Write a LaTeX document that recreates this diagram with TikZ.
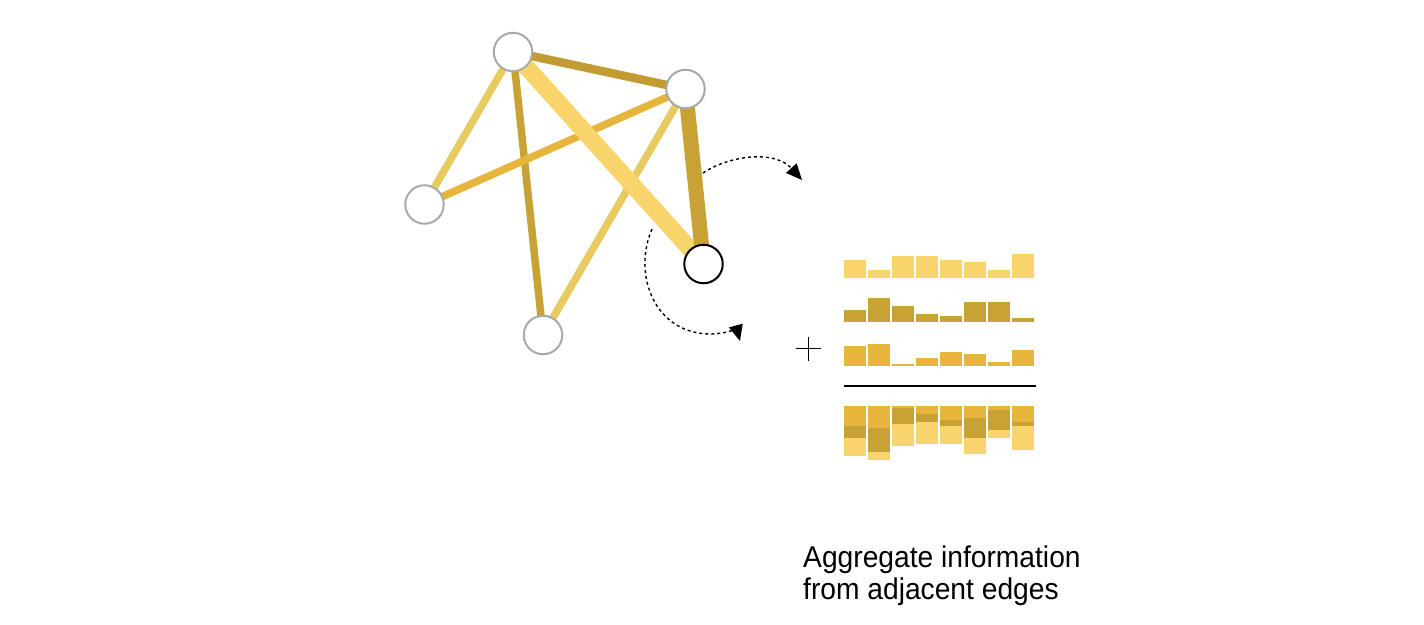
\documentclass[tikz,border=0pt]{standalone}
\usepackage{fontspec}
\newfontfamily\labelfont[FakeStretch=0.94]{Liberation Sans}
\usetikzlibrary{arrows.meta,backgrounds}
\definecolor{vgray}{HTML}{A9A9A9}
\definecolor{lightgold}{HTML}{F8D46B}
\definecolor{palegold}{HTML}{E7CB61}
\definecolor{orangegold}{HTML}{E8B53C}
\definecolor{darkgold}{HTML}{C9A236}
\definecolor{deepgold}{HTML}{C29B33}

\begin{document}
\begin{tikzpicture}[
      x=1pt, y=-1pt,
      vertex/.style={circle,draw=vgray,line width=2pt,fill=white,minimum size=38.5pt,inner sep=0pt},
      edge/.style={line width=7.5pt},
      flow/.style={dash pattern=on 3pt off 3pt,line width=1.4pt,-{Triangle[length=16pt,width=14pt]}}
    ]
    \useasboundingbox (0,0) rectangle (1424,624);
    % graph
    \node (a) [vertex] at (513,52) {};
    \node (b) [vertex] at (685.5,89) {};
    \node (c) [vertex] at (424.5,204.5) {};
    \node (d) [vertex] at (543,335) {};
    \node (e) [vertex,draw=black] at (703.5,264) {};
    \begin{scope}[on background layer]
      \draw[edge,darkgold] (a.center) -- (d.center);
      \draw[edge,palegold] (b.center) -- (d.center);
      \draw[edge,palegold] (a.center) -- (c.center);
      \draw[edge,orangegold] (b.center) -- (c.center);
      \draw[edge,lightgold,line width=17pt] (a.center) -- (e.center);
      \draw[edge,deepgold,line width=8.5pt] (a.center) -- (b.center);
      \draw[edge,darkgold,line width=15pt] (b.center) -- (e.center);
    \end{scope}
    % message flow
    \coordinate (out0) at (703,173);
    \coordinate (out1) at (802,180);
    \coordinate (in0) at (652,229);
    \coordinate (in1) at (740,341);
    \draw[flow] (out0) .. controls (730,155) and (775,150) .. (out1);
    \draw[flow] (in0) .. controls (632,275) and (655,335) .. (712,334)
      .. controls (728,333) and (737,330) .. (in1);
    % edge features
    \foreach \h [count=\i from 0] in {18,8,22,22,18,16,8,24}
      \fill[lightgold] (844+24*\i,278) rectangle ++(22,-\h);
    \foreach \h [count=\i from 0] in {12,24,16,8,6,20,20,4}
      \fill[darkgold] (844+24*\i,322) rectangle ++(22,-\h);
    \foreach \h [count=\i from 0] in {20,22,2,8,14,12,4,16}
      \fill[orangegold] (844+24*\i,366) rectangle ++(22,-\h);
    \draw[line width=1.4pt] (796,348.5) -- (820.5,348.5) (808.3,336.5) -- (808.3,360.5);
    \draw[line width=2pt] (844,385.7) -- (1036,385.7);
    % sum
    \foreach \l/\d/\o [count=\i from 0] in {18/12/20,8/24/22,22/16/2,22/8/8,18/6/14,16/20/12,8/20/4,24/4/16} {
      \fill[orangegold] (844+24*\i,406) rectangle ++(22,\o);
      \fill[darkgold] (844+24*\i,406+\o) rectangle ++(22,\d);
      \fill[lightgold] (844+24*\i,406+\o+\d) rectangle ++(22,\l);
    }
    \node (caption) [anchor=base west,align=left,inner sep=0pt,
      font=\labelfont\fontsize{30}{31.3}\selectfont] at (803,599)
      {Aggregate information\\from adjacent edges};
  \end{tikzpicture}
\end{document}
